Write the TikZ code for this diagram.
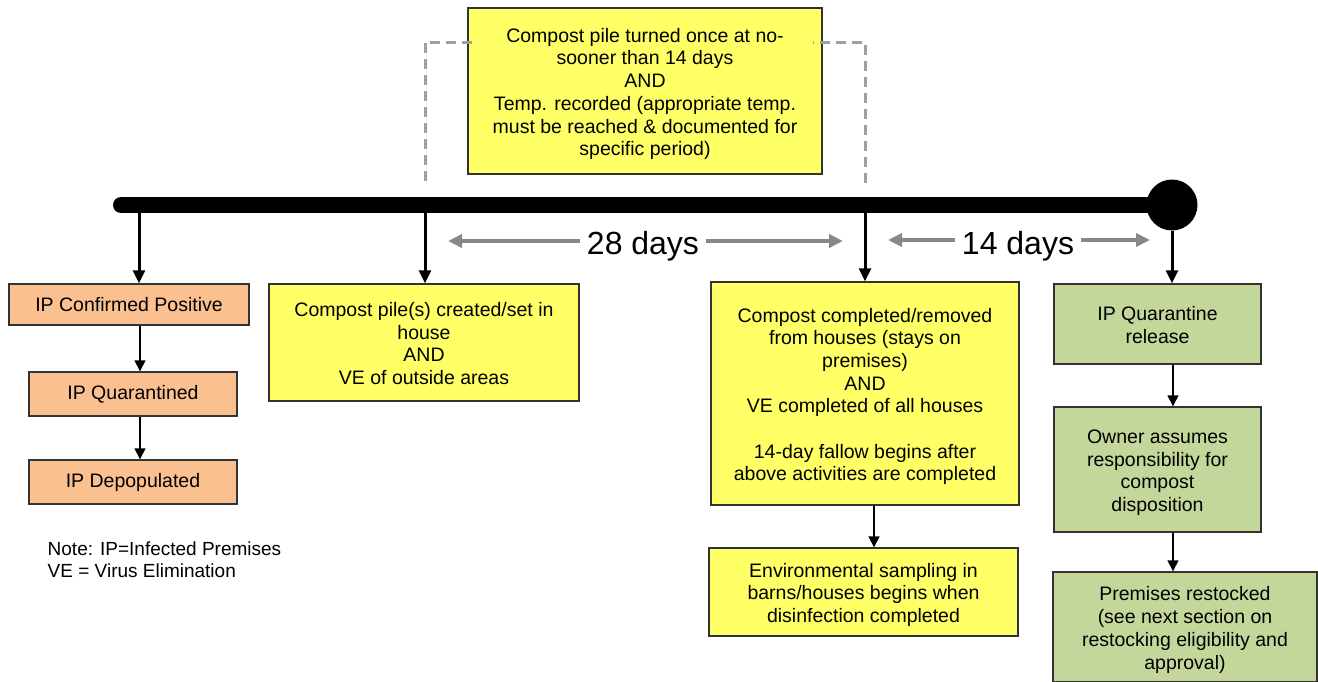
\documentclass[tikz,border=0pt]{standalone}
\usepackage{fontspec}
\setmainfont{Liberation Sans}
\usetikzlibrary{arrows.meta}
\definecolor{peach}{HTML}{FAC090}
\definecolor{ylw}{HTML}{FFFF66}
\definecolor{grn}{HTML}{C4D79B}
\definecolor{edge}{HTML}{333333}
\definecolor{dgray}{HTML}{A0A0A0}
\definecolor{agray}{HTML}{888888}
\newcommand\mt{\rule{0pt}{20pt}}
\newcommand\mb{\rule[-4pt]{0pt}{4pt}}
\tikzset{
  box/.style={draw=edge, line width=1.4pt, align=center, inner sep=0pt,
    font=\fontsize{19.5}{22.7}\selectfont},
  pbox/.style={box, fill=peach},
  ybox/.style={box, fill=ylw},
  gbox/.style={box, fill=grn},
  bigarrow/.style={line width=3pt, -{Triangle[length=13pt,width=12pt]}},
  smallarrow/.style={line width=1.4pt, -{Triangle[length=11pt,width=11pt]}},
  grayarrow/.style={line width=4pt, agray, -{Triangle[length=14pt,width=13pt]}},
  dashline/.style={dgray, line width=3pt, dash pattern=on 10pt off 6pt},
  dayslabel/.style={font=\fontsize{32}{36}\selectfont, inner sep=0pt}
}
\begin{document}
\begin{tikzpicture}[x=1pt,y=-1pt]
\useasboundingbox (0,0) rectangle (1318,681);

% dashed bracket
\coordinate (dl0) at (425,181);
\coordinate (dl1) at (425,42);
\coordinate (dr0) at (865,183);
\coordinate (dr1) at (865,42);

% top box
\node[ybox, minimum width=354pt, minimum height=166pt] (top) at (645,91)
  {\mt Compost pile turned once at no-\\sooner than 14 days\\AND\\Temp. recorded (appropriate temp.\\must be reached \& documented for\\specific period)\mb};
\draw[dashline] (dl0) -- (dl1) -- ([xshift=10pt]top.west |- dl1);
\draw[dashline] (dr0) -- (dr1) -- ([xshift=-10pt]top.east |- dr1);

% timeline
\coordinate (t0) at (121,205);
\node[circle, fill=black, minimum size=51pt, inner sep=0pt] (dot) at (1172,205) {};
\draw[line width=16pt, line cap=round] (t0) -- (dot.center);
\coordinate (t1) at (139,212);
\coordinate (t2) at (425,212);
\coordinate (t3) at (865,212);

% left column
\node[pbox, minimum width=240pt, minimum height=41pt] (conf) at (129,304.5) {IP Confirmed Positive};
\node[pbox, minimum width=208pt, minimum height=44pt] (quar) at (133,394) {IP Quarantined};
\node[pbox, minimum width=208pt, minimum height=44pt] (depo) at (133,482) {IP Depopulated};
\draw[bigarrow] (t1) -- (t1 |- conf.north);
\draw[smallarrow] (conf.south -| 140,0) -- (quar.north -| 140,0);
\draw[smallarrow] (quar.south -| 140,0) -- (depo.north -| 140,0);
\node[anchor=north west, align=left, inner sep=0pt, font=\fontsize{19}{22}\selectfont] (note) at (47.5,542)
  {Note: IP=Infected Premises\\VE = Virus Elimination};

% compost pile box
\node[ybox, minimum width=310pt, minimum height=117pt] (pile) at (424,342.5)
  {\mt Compost pile(s) created/set in\\house\\AND\\VE of outside areas\mb};
\draw[bigarrow] (t2) -- (t2 |- pile.north);

% compost completed box
\node[ybox, minimum width=308pt, minimum height=223pt] (done) at (865,393.5)
  {\mt Compost completed/removed\\from houses (stays on\\premises)\\AND\\VE completed of all houses\\[22.7pt]14-day fallow begins after\\above activities are completed\mb};
\draw[bigarrow] (t3) -- (t3 |- done.north);
\node[ybox, minimum width=309pt, minimum height=88pt] (env) at (863.5,592)
  {\mt Environmental sampling in\\barns/houses begins when\\disinfection completed\mb};
\draw[smallarrow] (done.south -| 874,0) -- (env.north -| 874,0);

% right column
\node[gbox, minimum width=207pt, minimum height=80pt] (rel) at (1157.5,324) {\mt IP Quarantine\\release\mb};
\draw[bigarrow] (dot.south) -- (dot.south |- rel.north);
\node[gbox, minimum width=207pt, minimum height=125pt] (own) at (1157.5,469.5)
  {\mt Owner assumes\\responsibility for\\compost\\disposition\mb};
\draw[smallarrow] (rel.south -| 1173,0) -- (own.north -| 1173,0);
\node[gbox, minimum width=264pt, minimum height=110pt] (rest) at (1185,627)
  {\mt Premises restocked\\(see next section on\\restocking eligibility and\\approval)\mb};
\draw[smallarrow] (own.south -| 1173,0) -- (rest.north -| 1173,0);

% day spans
\node[dayslabel] (d28) at (643,246) {28 days};
\coordinate (a28l) at (448,241);
\coordinate (a28r) at (843,241);
\draw[grayarrow] ([xshift=-7pt]d28.west |- a28l) -- (a28l);
\draw[grayarrow] ([xshift=7pt]d28.east |- a28r) -- (a28r);
\node[dayslabel] (d14) at (1018,246) {14 days};
\coordinate (a14l) at (888,240);
\coordinate (a14r) at (1150,240);
\draw[grayarrow] ([xshift=-7pt]d14.west |- a14l) -- (a14l);
\draw[grayarrow] ([xshift=7pt]d14.east |- a14r) -- (a14r);
\end{tikzpicture}
\end{document}
